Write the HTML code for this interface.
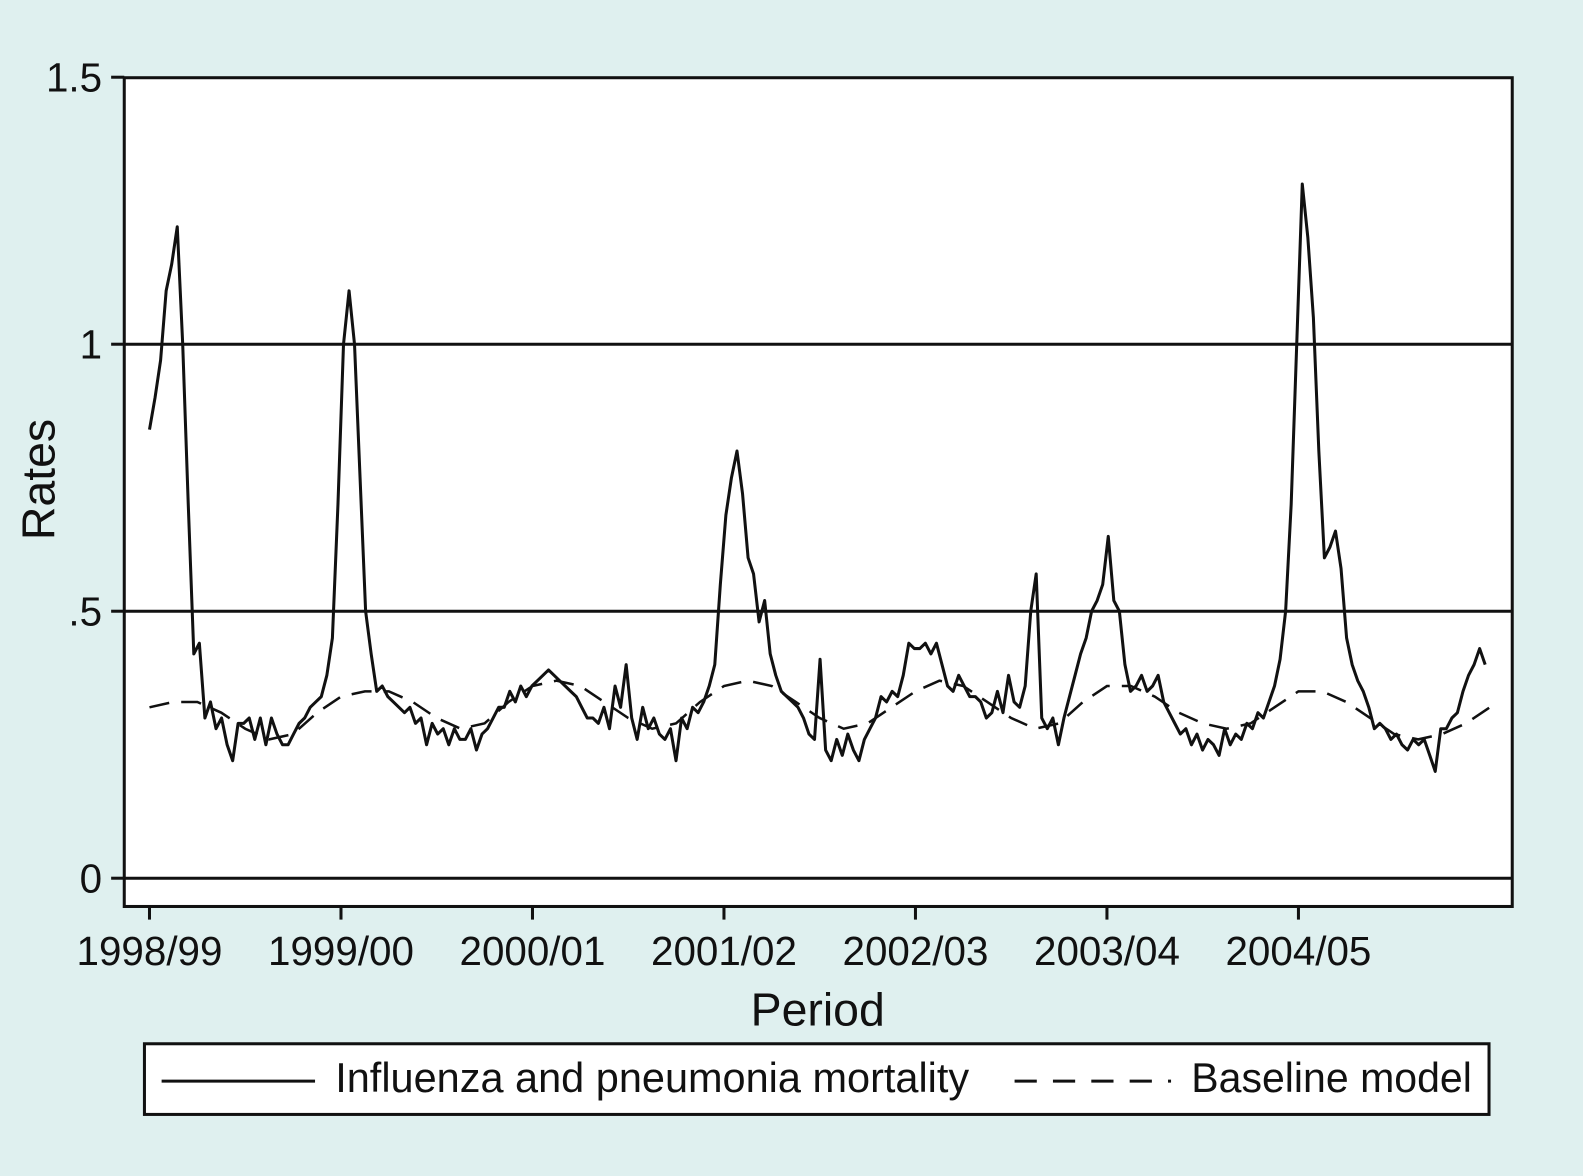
<!DOCTYPE html>
<html><head><meta charset="utf-8"><style>
html,body{margin:0;padding:0;background:#dff0ef;}
svg{display:block;font-family:"Liberation Sans",sans-serif;}
</style></head><body>
<svg id="chart" width="1583" height="1176" viewBox="0 0 1568 1165">
<rect x="0" y="0" width="1568" height="1165" fill="#dff0ef"/>
<rect x="123" y="77" width="1375" height="821" fill="#fff" stroke="#111" stroke-width="3"/>
<g id="grid"></g><g id="axes"></g><g id="series"></g>
<text x="54" y="475" font-size="46" text-anchor="middle" transform="rotate(-90 54 475)" fill="#111">Rates</text>
<text x="810" y="1016" font-size="46" text-anchor="middle" fill="#111">Period</text>
<g>
<rect x="143" y="1034" width="1332" height="70" fill="#fff" stroke="#111" stroke-width="3"/>
<line x1="160" y1="1071" x2="312" y2="1071" stroke="#111" stroke-width="3"/>
<text x="332" y="1082" font-size="41" textLength="628" lengthAdjust="spacingAndGlyphs" fill="#111">Influenza and pneumonia mortality</text>
<line x1="1005" y1="1071" x2="1160" y2="1071" stroke="#111" stroke-width="3" stroke-dasharray="22,16"/>
<text x="1180" y="1082" font-size="41" textLength="278" lengthAdjust="spacingAndGlyphs" fill="#111">Baseline model</text>
</g>
</svg>
<script>
const yTicks=[0,0.5,1,1.5];
const yTickLabels=["0",".5","1","1.5"];
const gridValues=[0,0.5,1];
const seasons=["1998/99","1999/00","2000/01","2001/02","2002/03","2003/04","2004/05"];
const mortality=[.84,.90,.97,1.10,1.15,1.22,1.0,.70,.42,.44,.30,.33,.28,.30,.25,.22,.29,.29,.30,.26,.30,.25,.30,.27,.25,.25,.27,.29,.30,.32,.33,.34,.38,.45,.70,1.0,1.10,1.0,.75,.50,.42,.35,.36,.34,.33,.32,.31,.32,.29,.30,.25,.29,.27,.28,.25,.28,.26,.26,.28,.24,.27,.28,.30,.32,.32,.35,.33,.36,.34,.36,.37,.38,.39,.38,.37,.36,.35,.34,.32,.30,.30,.29,.32,.28,.36,.32,.40,.30,.26,.32,.28,.30,.27,.26,.28,.22,.30,.28,.32,.31,.33,.36,.40,.55,.68,.75,.80,.72,.60,.57,.48,.52,.42,.38,.35,.34,.33,.32,.30,.27,.26,.41,.24,.22,.26,.23,.27,.24,.22,.26,.28,.30,.34,.33,.35,.34,.38,.44,.43,.43,.44,.42,.44,.40,.36,.35,.38,.36,.34,.34,.33,.30,.31,.35,.31,.38,.33,.32,.36,.50,.57,.30,.28,.30,.25,.30,.34,.38,.42,.45,.50,.52,.55,.64,.52,.50,.40,.35,.36,.38,.35,.36,.38,.33,.31,.29,.27,.28,.25,.27,.24,.26,.25,.23,.28,.25,.27,.26,.29,.28,.31,.30,.33,.36,.41,.50,.70,1.0,1.30,1.20,1.05,.80,.60,.62,.65,.58,.45,.40,.37,.35,.32,.28,.29,.28,.26,.27,.25,.24,.26,.25,.26,.23,.20,.28,.28,.30,.31,.35,.38,.40,.43,.40];
const baseline=[.32,.33,.33,.31,.28,.26,.27,.31,.34,.35,.35,.33,.30,.28,.29,.33,.36,.37,.36,.33,.30,.28,.29,.33,.36,.37,.36,.33,.30,.28,.29,.32,.35,.37,.36,.33,.30,.28,.29,.33,.36,.36,.34,.31,.29,.28,.29,.32,.35,.35,.33,.30,.27,.26,.27,.29,.32];
const NS="http://www.w3.org/2000/svg";
const yS=v=>870-v*529;
const xS=t=>148+t*189.7;
function mk(tag,attrs,parent){const e=document.createElementNS(NS,tag);for(const k in attrs)e.setAttribute(k,attrs[k]);document.getElementById(parent).appendChild(e);return e;}
gridValues.forEach(v=>{
 const l=mk('line',{x1:123,x2:1498,y1:yS(v),y2:yS(v),stroke:'#111','stroke-width':3},'grid');
 
 
});
yTicks.forEach((v,i)=>{
 const l=mk('line',{x1:110,x2:123,y1:yS(v),y2:yS(v),stroke:'#111','stroke-width':3},'axes');
 
 
 const t=mk('text',{x:101,y:yS(v)+14,'font-size':40,'text-anchor':'end',fill:'#111'},'axes');
 t.textContent=yTickLabels[i];
 
 
});
seasons.forEach((s,i)=>{
 const x=xS(i);
 const l=mk('line',{x1:x,x2:x,y1:898,y2:911,stroke:'#111','stroke-width':3},'axes');
 
 
 const t=mk('text',{x:x,y:956,'font-size':40,'text-anchor':'middle',fill:'#111'},'axes');
 t.textContent=s;
 
 
});
const span=6.975;
const pm=mortality.map((v,i)=>xS(i*span/(mortality.length-1)).toFixed(1)+','+yS(v).toFixed(1)).join(' ');
const p1=mk('polyline',{points:pm,fill:'none',stroke:'#111','stroke-width':3,'stroke-linejoin':'round'},'series');


const pb=baseline.map((v,i)=>xS(i*7/(baseline.length-1)).toFixed(1)+','+yS(v).toFixed(1)).join(' ');
const p2=mk('polyline',{points:pb,fill:'none',stroke:'#111','stroke-width':2.5,'stroke-dasharray':'20,12'},'series');


</script>
</body></html>
